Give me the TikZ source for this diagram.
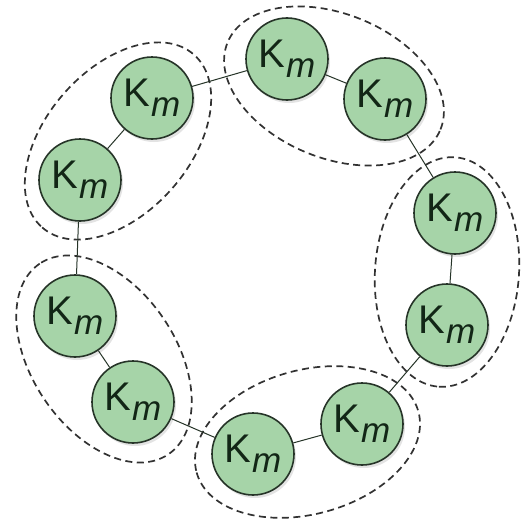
\documentclass[tikz,border=0pt]{standalone}
\usepackage{fontspec}
\setmainfont{Liberation Sans}
\usetikzlibrary{shapes.geometric,calc,shadows}
\definecolor{kfill}{RGB}{166,212,168}
\definecolor{kdraw}{RGB}{38,52,40}
\definecolor{ktext}{RGB}{18,38,22}
\definecolor{grpcol}{RGB}{50,50,50}
\newcommand{\kmlabel}{{\fontsize{40}{40}\selectfont K}\kern0.5pt{\fontsize{35}{35}\selectfont\itshape\raisebox{-10pt}{m}}}
\tikzset{
  kbox/.style={circle, draw=kdraw, line width=1.6pt, fill=kfill, text=ktext, minimum size=82pt, inner sep=0pt,
    drop shadow={opacity=0.22, shadow xshift=2pt, shadow yshift=-3pt}},
  link/.style={draw=kdraw, line width=1pt},
  grp/.style={ellipse, draw=grpcol, line width=1.7pt, dash pattern=on 7pt off 4.5pt, inner sep=0pt,
    minimum width=230pt, minimum height=144pt}
}
\begin{document}
\begin{tikzpicture}[x=1pt,y=-1pt]
\useasboundingbox[fill=white] (0,0) rectangle (522,522);
\coordinate (p1) at (152,98);
\coordinate (p2) at (80,180);
\coordinate (p3) at (75,316);
\coordinate (p4) at (133,402);
\coordinate (p5) at (253,454);
\coordinate (p6) at (362,424);
\coordinate (p7) at (447,325);
\coordinate (p8) at (455,213);
\coordinate (p9) at (385,99);
\coordinate (p10) at (287,59);
% group ellipses
\foreach \ga/\gb/\gname/\gdx/\gdy in {p1/p2/g1/2/2, p10/p9/g2/-2/7, p8/p7/g3/-4/3, p6/p5/g4/0/3, p4/p3/g5/0/0}{
  \path let \p1=($(\gb)-(\ga)$), \n1={atan2(\y1,\x1)} in
    ($(\ga)!0.5!(\gb)+(\gdx,\gdy)$) node[grp, rotate=\n1] (\gname) {};
}
% circles
\foreach \i in {1,...,10}{
  \node[kbox] (k\i) at (p\i) {\kmlabel};
}
% links
\foreach \i/\j in {1/2,2/3,3/4,4/5,5/6,6/7,7/8,8/9,9/10,10/1}{
  \draw[link] (k\i) -- (k\j);
}
\end{tikzpicture}
\end{document}
